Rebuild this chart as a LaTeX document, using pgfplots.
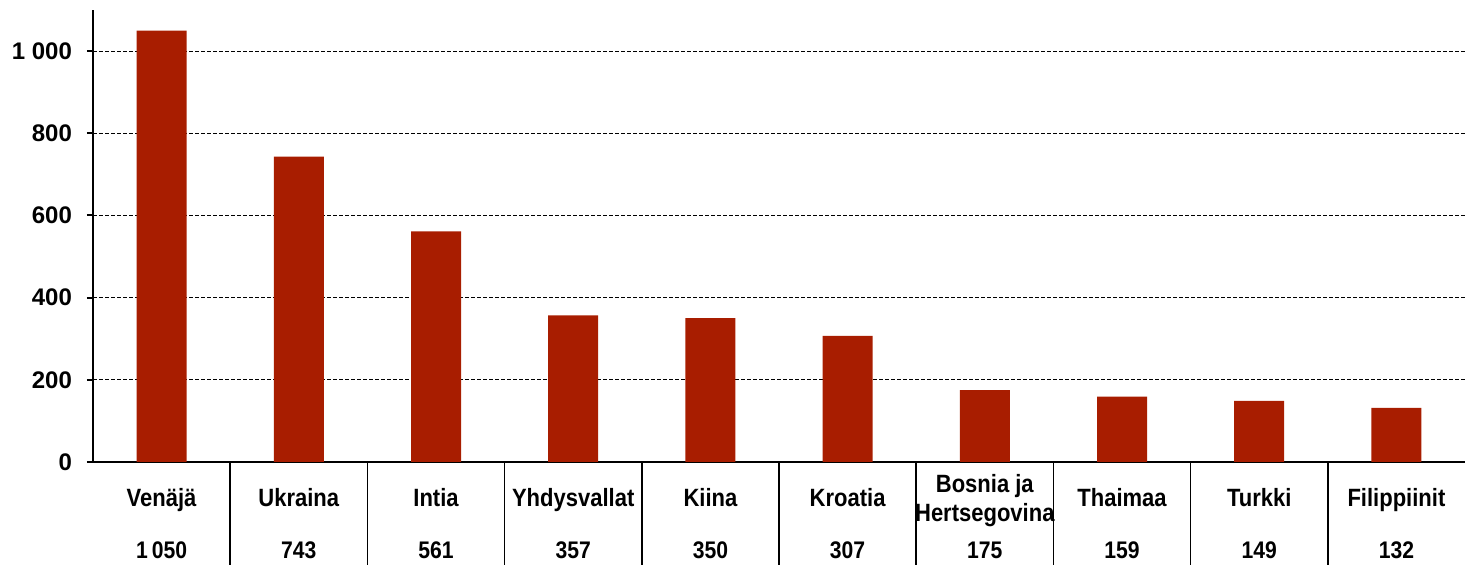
\documentclass[border=0pt]{standalone}
\usepackage{fontspec}
\setmainfont{Liberation Sans}
\newfontfamily\condfont[FakeStretch=0.88]{Liberation Sans}
\usepackage{pgfplots}
\pgfplotsset{compat=1.18}
\definecolor{barred}{RGB}{168,29,0}
\begin{document}
\begin{tikzpicture}[font=\bfseries\fontsize{11.5}{13}\selectfont]
\begin{axis}[
  at={(0,0)}, anchor=south west,
  width=686pt, height=226pt, scale only axis,
  xmin=-0.5, xmax=9.5, ymin=0, ymax=1100,
  axis lines*=left,
  axis line style={line width=1.2pt},
  xtick=\empty,
  ytick={0,200,400,600,800,1000},
  tick align=outside, major tick length=3pt,
  ytick style={line width=1pt, black},
  ymajorgrids,
  grid style={black, line width=0.5pt, dash pattern=on 2pt off 1pt},
  /pgf/number format/1000 sep={\ },
  /pgf/number format/assume math mode=true,
  yticklabel style={font=\bfseries\fontsize{12}{13}\selectfont, xshift=-4pt},
  clip=false,
]
\addplot[ybar, bar width=25pt, fill=barred, draw=none] coordinates {
  (0,1050) (1,743) (2,561) (3,357) (4,350) (5,307) (6,175) (7,159) (8,149) (9,132)
};
\foreach \k in {0.5,1.5,2.5,3.5,4.5,5.5,6.5,7.5,8.5}{
  \edef\tmp{\noexpand\draw[line width=0.8pt] (axis cs:\k,0) -- (axis cs:\k,-251);}
  \tmp
}
\begin{scope}[every node/.style={anchor=base, inner sep=0pt, font=\condfont\bfseries\fontsize{12.5}{14.5}\selectfont}]
\node at (axis cs:0,-109.5) {Venäjä};
\node at (axis cs:1,-109.5) {Ukraina};
\node at (axis cs:2,-109.5) {Intia};
\node at (axis cs:3,-109.5) {Yhdysvallat};
\node at (axis cs:4,-109.5) {Kiina};
\node at (axis cs:5,-109.5) {Kroatia};
\node[align=center] at (axis cs:6,-146) {Bosnia ja\\Hertsegovina};
\node at (axis cs:7,-109.5) {Thaimaa};
\node at (axis cs:8,-109.5) {Turkki};
\node at (axis cs:9,-109.5) {Filippiinit};
\end{scope}
\begin{scope}[every node/.style={anchor=base, inner sep=0pt, font=\condfont\bfseries\fontsize{12}{14}\selectfont}]
\node at (axis cs:0,-236) {1\,050};
\node at (axis cs:1,-236) {743};
\node at (axis cs:2,-236) {561};
\node at (axis cs:3,-236) {357};
\node at (axis cs:4,-236) {350};
\node at (axis cs:5,-236) {307};
\node at (axis cs:6,-236) {175};
\node at (axis cs:7,-236) {159};
\node at (axis cs:8,-236) {149};
\node at (axis cs:9,-236) {132};
\end{scope}
\end{axis}
\pgfresetboundingbox
\path (-46.5pt,-51.5pt) rectangle (686pt,231pt);
\end{tikzpicture}
\end{document}
